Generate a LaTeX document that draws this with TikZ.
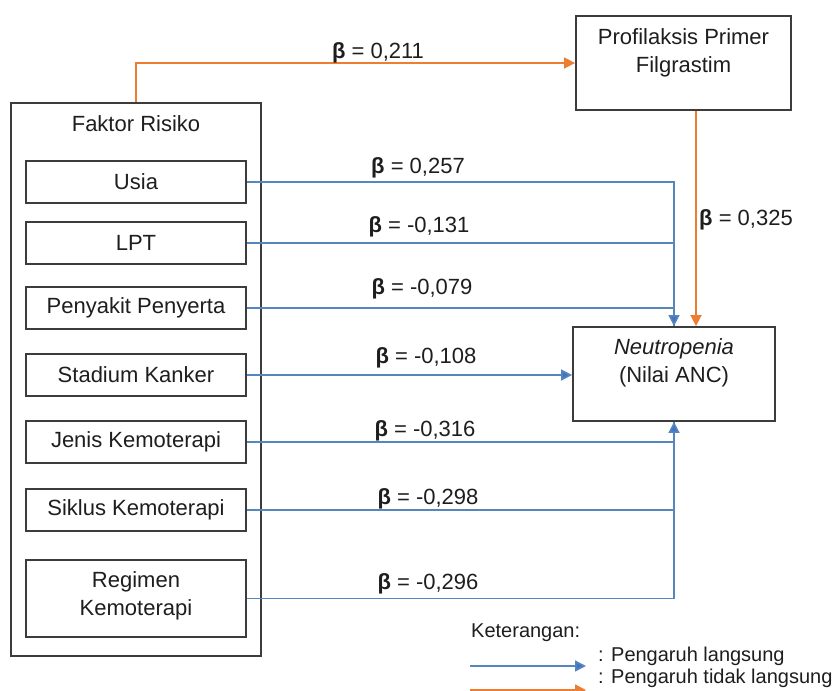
\documentclass[tikz,border=0pt]{standalone}
\usepackage{fontspec}
\setmainfont{Liberation Sans}
\usetikzlibrary{arrows.meta}
\definecolor{bordc}{HTML}{3C3C3C}
\definecolor{bluel}{HTML}{5586BC}
\definecolor{bluea}{HTML}{4472C4}
\definecolor{orng}{HTML}{ED7D31}
\definecolor{txtc}{HTML}{1E1E1E}
\tikzset{
  box/.style={draw=bordc, line width=1.8pt, minimum width=220pt, minimum height=42pt, inner sep=0pt,
    font=\fontsize{22}{28}\selectfont, text=txtc, align=center},
  txt/.style={font=\fontsize{22}{28}\selectfont, text=txtc, align=center, inner sep=0pt},
  lgd/.style={font=\fontsize{20}{22}\selectfont, text=txtc, inner sep=0pt},
  beta/.style={font=\fontsize{22}{26}\selectfont, text=txtc, inner sep=0pt, anchor=base},
  blu/.style={draw=bluel, line width=1.6pt},
  bluarr/.style={draw=bluel, line width=1.6pt, -{Triangle[length=11pt,width=11pt,fill=bluea]}},
  org/.style={draw=orng, line width=1.6pt, -{Triangle[length=11pt,width=11pt,fill=orng]}}
}
\begin{document}
\begin{tikzpicture}[x=1pt,y=-1pt]
\useasboundingbox[fill=white] (0,0) rectangle (833,691);
\clip (0,0) rectangle (833,691);
% outer box
\node[draw=bordc, line width=1.8pt, minimum width=250pt, minimum height=553pt, inner sep=0pt] (faktor) at (136,379.5) {};
\node[txt] (faktortxt) at (136,124) {Faktor Risiko};
% inner boxes
\node[box] (usia) at (136,182) {Usia};
\node[box] (lpt) at (136,243) {LPT};
\node[box] (peny) at (136,308) {Penyakit Penyerta};
\node[box] (stad) at (136,375) {Stadium Kanker};
\node[box] (jenis) at (136,442) {Jenis Kemoterapi};
\node[box] (siklus) at (136,510) {Siklus Kemoterapi};
\node[box, minimum height=77pt] (regimen) at (136,598.5) {};
\node[txt] (regtxt) at (136,596) {Regimen\\Kemoterapi};
% right boxes
\node[draw=bordc, line width=1.8pt, minimum width=215pt, minimum height=94pt, inner sep=0pt] (prof) at (683.5,63) {};
\node[txt] (proftxt) at (683.5,53) {Profilaksis Primer\\Filgrastim};
\node[draw=bordc, line width=1.8pt, minimum width=202pt, minimum height=94pt, inner sep=0pt] (neut) at (674,374) {};
\node[txt] (neuttxt) at (674,363) {\textit{Neutropenia}\\(Nilai ANC)};
% helper coordinates
\coordinate (ox) at (696,0);
% connectors
\draw[org] (faktor.north) |- (prof.west);
\draw[org] (prof.south -| ox) -- (neut.north -| ox);
\draw[blu] (lpt.east) -| (neut.north);
\draw[blu] (peny.east) -| (neut.north);
\draw[bluarr] (usia.east) -| (neut.north);
\draw[bluarr] (stad.east) -- (stad.east -| neut.west);
\draw[blu] (jenis.east) -| (neut.south);
\draw[blu] (siklus.east) -| (neut.south);
\draw[bluarr] (regimen.east) -| (neut.south);
% labels
\node[beta] (b1) at (378,58) {\textbf{β} = 0,211};
\node[beta] (b2) at (418,173) {\textbf{β} = 0,257};
\node[beta] (b3) at (419,232) {\textbf{β} = -0,131};
\node[beta] (b4) at (422,294) {\textbf{β} = -0,079};
\node[beta] (b5) at (426,363) {\textbf{β} = -0,108};
\node[beta] (b6) at (425,436) {\textbf{β} = -0,316};
\node[beta] (b7) at (428,504) {\textbf{β} = -0,298};
\node[beta] (b8) at (428,589) {\textbf{β} = -0,296};
\node[beta] (b9) at (746,225) {\textbf{β} = 0,325};
% legend
\node[lgd, anchor=west] (ket) at (471,633) {Keterangan:};
\coordinate (l1a) at (470,666);
\coordinate (l1b) at (586,666);
\coordinate (l2a) at (470,690);
\coordinate (l2b) at (586,690);
\draw[bluarr] (l1a) -- (l1b);
\draw[org] (l2a) -- (l2b);
\node[lgd, anchor=west] (lg1) at (598,656) {: Pengaruh langsung};
\node[lgd, anchor=west] (lg2) at (598,678) {: Pengaruh tidak langsung};
\end{tikzpicture}
\end{document}
